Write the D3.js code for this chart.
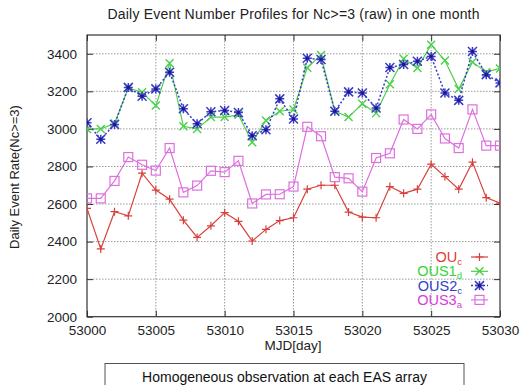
<!DOCTYPE html>
<html>
<head>
<meta charset="utf-8">
<script src="https://cdn.jsdelivr.net/npm/d3@7"></script>
<style>
  html, body { margin: 0; padding: 0; background: #fff; }
  svg { display: block; font-family: "Liberation Sans", Arial, sans-serif; }
</style>
</head>
<body>
<svg id="chart" width="527" height="385"></svg>
<script>
// MJD days covered by the month
const days = d3.range(53000, 53031);

// Daily event counts (Nc>=3, raw) for each array
const ouC   = [2577,2361,2559,2537,2764,2674,2626,2514,2422,2484,2554,2508,2403,2465,2512,2527,2679,2700,2700,2557,2530,2527,2693,2657,2679,2812,2746,2679,2823,2634,2604];
const ous1D = [3000,3000,3029,3218,3195,3124,3350,3014,3000,3063,3063,3075,2929,3045,3094,3103,3326,3393,3094,3063,3134,3084,3238,3373,3324,3448,3364,3212,3356,3302,3322];
const ous2C = [3033,2945,3023,3221,3174,3213,3302,3107,3027,3091,3098,3087,2964,2995,3160,3053,3376,3370,3094,3197,3191,3111,3327,3343,3360,3386,3191,3152,3412,3289,3245];
const ous3A = [2630,2630,2723,2850,2809,2778,2898,2662,2698,2777,2770,2830,2603,2651,2652,2693,3011,2961,2743,2737,2666,2845,2870,3050,3000,3077,2949,2898,3104,2911,2911];

const xTicks = [53000, 53005, 53010, 53015, 53020, 53025, 53030];
const yTicks = [2000, 2200, 2400, 2600, 2800, 3000, 3200, 3400];

const series = [
  { name: "OU",   sub: "c", values: ouC,   color: "#d8403c", text: "#e03a36", marker: "plus",   dash: null },
  { name: "OUS1", sub: "d", values: ous1D, color: "#4ad04a", text: "#33d633", marker: "cross",  dash: null },
  { name: "OUS2", sub: "c", values: ous2C, color: "#3a3ac8", text: "#3340cc", marker: "star",   dash: "2,2" },
  { name: "OUS3", sub: "a", values: ous3A, color: "#de70de", text: "#d83cd8", marker: "square", dash: null }
];

const svg = d3.select("#chart");
const plot = { left: 87, right: 500, top: 35, bottom: 316.7 };

const x = d3.scaleLinear().domain([53000, 53030]).range([plot.left, plot.right]);
const y = d3.scaleLinear().domain([2000, 3500]).range([plot.bottom, plot.top]);

svg.append("defs").append("clipPath").attr("id", "plotClip")
  .append("rect")
  .attr("x", plot.left).attr("y", plot.top)
  .attr("width", plot.right - plot.left).attr("height", plot.bottom - plot.top);

// Title
svg.append("text")
  .attr("x", 293.5).attr("y", 19)
  .attr("text-anchor", "middle")
  .attr("font-size", 14)
  .attr("textLength", 372)
  .attr("fill", "#222")
  .text("Daily Event Number Profiles for Nc>=3 (raw) in one month");

// Grid lines (dotted)
const grid = svg.append("g").attr("stroke", "#9a9a9a").attr("stroke-width", 1).attr("stroke-dasharray", "1.5,1.5");
grid.selectAll("line.gx").data(xTicks.slice(1, -1)).join("line")
  .attr("x1", d => x(d)).attr("x2", d => x(d))
  .attr("y1", plot.top).attr("y2", plot.bottom);
grid.selectAll("line.gy").data(yTicks.slice(1)).join("line")
  .attr("x1", plot.left).attr("x2", plot.right)
  .attr("y1", d => y(d)).attr("y2", d => y(d));

// Axes with inward ticks on all four sides
const axisFont = g => g.selectAll("text").attr("font-size", 13.5).attr("fill", "#222").attr("font-family", "Liberation Sans, Arial, sans-serif");
const strip = g => { g.select(".domain").remove(); g.selectAll("line").attr("stroke", "#333"); };

svg.append("g").attr("transform", `translate(0,${plot.bottom})`)
  .call(d3.axisBottom(x).tickValues(xTicks).tickFormat(d3.format("d")).tickSizeInner(-6).tickPadding(9))
  .call(strip).call(axisFont);
svg.append("g").attr("transform", `translate(0,${plot.top})`)
  .call(d3.axisTop(x).tickValues(xTicks).tickFormat("").tickSizeInner(-6))
  .call(strip);
svg.append("g").attr("transform", `translate(${plot.left},0)`)
  .call(d3.axisLeft(y).tickValues(yTicks).tickFormat(d3.format("d")).tickSizeInner(-6).tickPadding(10))
  .call(strip).call(axisFont);
svg.append("g").attr("transform", `translate(${plot.right},0)`)
  .call(d3.axisRight(y).tickValues(yTicks).tickFormat("").tickSizeInner(-6))
  .call(strip);

// Frame
svg.append("rect")
  .attr("x", plot.left).attr("y", plot.top)
  .attr("width", plot.right - plot.left).attr("height", plot.bottom - plot.top)
  .attr("fill", "none").attr("stroke", "#333").attr("stroke-width", 1.2);

// Axis titles
svg.append("text")
  .attr("x", 293).attr("y", 350)
  .attr("text-anchor", "middle").attr("font-size", 13.5).attr("fill", "#222")
  .text("MJD[day]");
svg.append("text")
  .attr("transform", "translate(19,177) rotate(-90)")
  .attr("text-anchor", "middle").attr("font-size", 13).attr("fill", "#222")
  .text("Daily Event Rate(Nc>=3)");

// Marker shapes
function drawMarker(g, kind, color, size) {
  const h = size / 2;
  if (kind === "plus") {
    g.append("path").attr("d", `M${-h},0H${h}M0,${-h}V${h}`).attr("stroke", color).attr("stroke-width", 1.2).attr("fill", "none");
  } else if (kind === "cross") {
    g.append("path").attr("d", `M${-h},${-h}L${h},${h}M${-h},${h}L${h},${-h}`).attr("stroke", color).attr("stroke-width", 1.4).attr("fill", "none");
  } else if (kind === "star") {
    g.append("path").attr("d", `M${-h},${-h}L${h},${h}M${-h},${h}L${h},${-h}M${-h},0H${h}M0,${-h}V${h}`).attr("stroke", color).attr("stroke-width", 1.5).attr("fill", "none");
    g.append("rect").attr("x", -1.5).attr("y", -1.5).attr("width", 3).attr("height", 3).attr("fill", "#1a1a80");
  } else if (kind === "square") {
    g.append("rect").attr("x", -h).attr("y", -h).attr("width", size).attr("height", size).attr("stroke", color).attr("stroke-width", 1.2).attr("fill", "none");
  }
}

const sizes = { plus: 8, cross: 8, star: 9, square: 9 };
const layer = svg.append("g").attr("clip-path", "url(#plotClip)");
const line = d3.line().x((d, i) => x(days[i])).y(d => y(d));

series.forEach(s => {
  layer.append("path")
    .datum(s.values)
    .attr("d", line)
    .attr("fill", "none")
    .attr("stroke", s.color)
    .attr("stroke-width", s.dash ? 1.5 : 1.2)
    .attr("stroke-dasharray", s.dash);
  layer.append("g").selectAll("g").data(s.values).join("g")
    .attr("transform", (d, i) => `translate(${x(days[i])},${y(d)})`)
    .each(function() { drawMarker(d3.select(this), s.marker, s.color, sizes[s.marker]); });
});

// Legend
const legend = svg.append("g");
series.forEach((s, i) => {
  const ly = 262 + i * 14.3;
  const t = legend.append("text")
    .attr("x", 462).attr("y", ly)
    .attr("text-anchor", "end")
    .attr("font-size", 14.5).attr("fill", s.text);
  t.append("tspan").text(s.name);
  t.append("tspan").attr("dy", 3).attr("font-size", 9.5).text(s.sub);
  const sg = legend.append("g");
  sg.append("line")
    .attr("x1", 471).attr("x2", 488).attr("y1", ly - 5).attr("y2", ly - 5)
    .attr("stroke", s.color).attr("stroke-width", s.dash ? 1.5 : 1.2)
    .attr("stroke-dasharray", s.dash);
  const m = sg.append("g").attr("transform", `translate(479.5,${ly - 5})`);
  drawMarker(m, s.marker, s.color, sizes[s.marker]);
});

// Caption box
svg.append("rect")
  .attr("x", 105).attr("y", 363.5)
  .attr("width", 359).attr("height", 30)
  .attr("fill", "#fff").attr("stroke", "#555").attr("stroke-width", 1);
svg.append("text")
  .attr("x", 284.5).attr("y", 382)
  .attr("text-anchor", "middle").attr("font-size", 14).attr("fill", "#111")
  .text("Homogeneous observation at each EAS array");
</script>
</body>
</html>
